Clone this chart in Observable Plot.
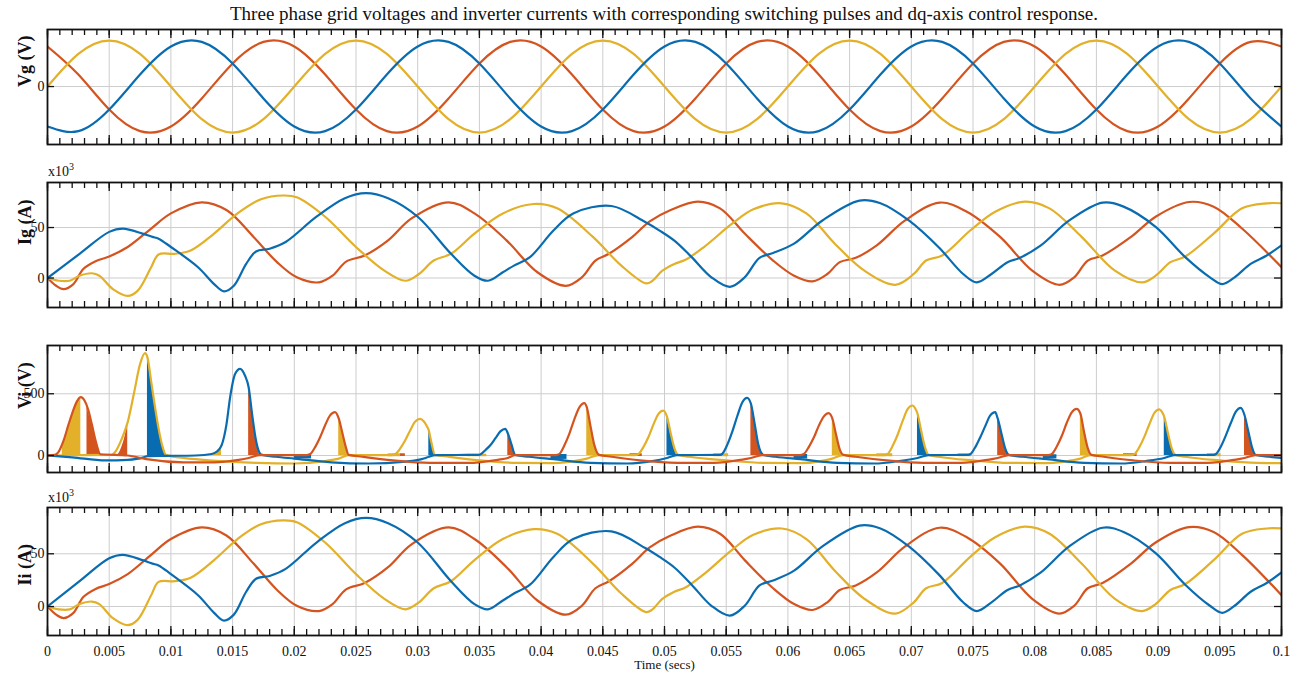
<!DOCTYPE html>
<html><head><meta charset="utf-8">
<script src="https://cdn.jsdelivr.net/npm/d3@7"></script>
<script src="https://cdn.jsdelivr.net/npm/@observablehq/plot@0.6"></script>
<style>
body{margin:0;background:#fff;}
#root{position:relative;width:1296px;height:680px;font-family:"Liberation Serif","Times New Roman",serif;color:#111;overflow:hidden;}
.abs{position:absolute;}
.exp{font-size:14px;line-height:16px;}
.exp span{font-size:10px;position:relative;top:-6px;}
</style></head><body><div id="root"></div>
<script>
// ---------- text ----------
const titleText = "Three phase grid voltages and inverter currents with corresponding switching pulses and dq-axis control response.";
const xLabel = "Time (secs)";
const panelLabels = ["Vg (V)", "Ig (A)", "Vi (V)", "Ii (A)"];
const timeTicks = [0,0.005,0.01,0.015,0.02,0.025,0.03,0.035,0.04,0.045,0.05,0.055,0.06,0.065,0.07,0.075,0.08,0.085,0.09,0.095,0.1];
const timeTickLabels = ["0","0.005","0.01","0.015","0.02","0.025","0.03","0.035","0.04","0.045","0.05","0.055","0.06","0.065","0.07","0.075","0.08","0.085","0.09","0.095","0.1"];
const vgTicks = [0], vgTickLabels = ["0"];
const igTicks = [0, 50], igTickLabels = ["0", "50"];
const viTicks = [0, 500], viTickLabels = ["0", "500"];
const iiTicks = [0, 50], iiTickLabels = ["0", "50"];

// ---------- Vg (per-unit, read at 2.5 ms steps) ----------
const vgTime = [0,0.0025,0.005,0.0075,0.01,0.0125,0.015,0.0175,0.02,0.0225,0.025,0.0275,0.03,0.0325,0.035,0.0375,0.04,0.0425,0.045,0.0475,0.05,0.0525,0.055,0.0575,0.06,0.0625,0.065,0.0675,0.07,0.0725,0.075,0.0775,0.08,0.0825,0.085,0.0875,0.09,0.0925,0.095,0.0975,0.1];
const vgYellow = [0,0.71,1,0.71,0,-0.71,-1,-0.71, 0,0.71,1,0.71,0,-0.71,-1,-0.71, 0,0.71,1,0.71,0,-0.71,-1,-0.71, 0,0.71,1,0.71,0,-0.71,-1,-0.71, 0,0.71,1,0.71,0,-0.71,-1,-0.71, 0];
const vgBlue = [-0.87,-0.97,-0.5,0.26,0.87,0.97,0.5,-0.26, -0.87,-0.97,-0.5,0.26,0.87,0.97,0.5,-0.26, -0.87,-0.97,-0.5,0.26,0.87,0.97,0.5,-0.26, -0.87,-0.97,-0.5,0.26,0.87,0.97,0.5,-0.26, -0.87,-0.97,-0.5,0.26,0.87,0.97,0.5,-0.26, -0.87];
const vgRed = [0.87,0.26,-0.5,-0.97,-0.87,-0.26,0.5,0.97, 0.87,0.26,-0.5,-0.97,-0.87,-0.26,0.5,0.97, 0.87,0.26,-0.5,-0.97,-0.87,-0.26,0.5,0.97, 0.87,0.26,-0.5,-0.97,-0.87,-0.26,0.5,0.97, 0.87,0.26,-0.5,-0.97,-0.87,-0.26,0.5,0.97, 0.87];

// ---------- Ig (x10^3 A), [t, value] ----------
const igBlue = [[0,0],[0.0026,24],[0.005,45.7],[0.0061,49],[0.0077,44],[0.0085,40.7],[0.009,39],[0.01,30.7],[0.0122,10.7],[0.0135,-6],[0.0143,-13.3],[0.0151,-7.7],[0.0161,14],[0.0169,26.3],[0.018,29],[0.0193,35.7],[0.0218,60.7],[0.0241,79],[0.0258,84],[0.0276,79],[0.03,60.7],[0.0327,24],[0.0346,2.3],[0.0357,-2.7],[0.0369,5.7],[0.0378,12.3],[0.0391,20.7],[0.041,47],[0.0426,64],[0.0457,71.3],[0.0484,55.7],[0.0496,47],[0.0508,37],[0.0522,20.7],[0.0538,0.7],[0.0553,-8.7],[0.0565,0.7],[0.0577,20],[0.0588,24.7],[0.0605,34],[0.0628,57],[0.0658,76.7],[0.0675,74],[0.0698,57],[0.0722,30.7],[0.0742,4],[0.0753,-4.3],[0.0765,4],[0.0778,15.7],[0.0788,20],[0.0805,32.3],[0.0828,57],[0.0855,74.7],[0.0872,70.7],[0.0898,50.7],[0.0922,20.7],[0.0942,0.7],[0.0952,-6],[0.0962,0.7],[0.0975,14],[0.0988,22.3],[0.1,32.3]];
const igRed = [[0,0],[0.0007,-7.7],[0.0013,-11],[0.0021,-6],[0.0029,9],[0.0039,16.7],[0.005,21.3],[0.0065,30.7],[0.0084,49],[0.01,64],[0.0125,75],[0.0145,67.3],[0.0167,40.7],[0.0186,15.7],[0.0202,0.7],[0.022,-4.3],[0.0231,2.3],[0.0242,16.3],[0.0257,22.3],[0.0276,37.3],[0.0295,59],[0.0325,75],[0.0346,64],[0.0372,37.3],[0.0397,5.7],[0.042,-7.7],[0.0433,0.7],[0.0444,17.3],[0.0455,24],[0.0474,40.7],[0.0488,56],[0.0505,67.3],[0.0527,75.7],[0.0545,69],[0.0565,44],[0.0588,17.3],[0.0605,2.3],[0.062,-3.3],[0.0632,4],[0.0642,15.7],[0.0655,20],[0.0672,32.3],[0.0695,57],[0.0723,74.7],[0.0745,65.7],[0.0772,40.7],[0.0798,7.3],[0.082,-6.7],[0.0832,0.7],[0.0843,17.3],[0.0855,22.3],[0.0878,40.7],[0.0898,60.7],[0.0925,75.3],[0.0945,70.7],[0.0968,49],[0.1,10.7]];
const igYellow = [[0,0],[0.0009,-2.7],[0.0018,-2.7],[0.0026,2.3],[0.0036,4.7],[0.0042,2.3],[0.0053,-11],[0.0065,-17.7],[0.0073,-12.7],[0.0084,10.7],[0.009,23.3],[0.0103,24],[0.0116,27.3],[0.0135,44],[0.0154,64],[0.0173,78],[0.0191,81.7],[0.0202,80],[0.0225,60.7],[0.025,30.7],[0.0273,7.3],[0.029,-2.7],[0.0301,4],[0.0313,17.3],[0.0327,24],[0.0346,44],[0.0369,64],[0.0394,73.3],[0.0413,69],[0.0442,40.7],[0.0465,12.3],[0.0485,-5.3],[0.049,-3],[0.0498,7],[0.0508,14],[0.0517,18],[0.0532,30.7],[0.0555,54],[0.0572,68],[0.0595,74],[0.0615,64],[0.0638,34],[0.0662,7.3],[0.0687,-6.7],[0.0702,4],[0.0712,17.3],[0.0725,22.3],[0.0748,47.3],[0.0768,65.7],[0.0792,75.7],[0.0812,69],[0.0838,40.7],[0.0865,7.3],[0.0887,-4.3],[0.0898,2.3],[0.091,15.7],[0.0922,21.3],[0.0945,44],[0.0968,69],[0.0988,74],[0.1,74]];

// ---------- Ii (x10^3 A): reads the same as Ig ----------
const iiBlue = igBlue, iiRed = igRed, iiYellow = igYellow;

// ---------- Vi (V), [t, value] ----------
const viRed = [[0,0],[0.0006,5],[0.0009,30],[0.0013,120],[0.0017,250],[0.0021,370],[0.0024,440],[0.0027,472],[0.003,445],[0.0033,370],[0.0036,250],[0.0039,120],[0.0043,10],[0.0065,0],[0.008,-30],[0.011,-55],[0.0135,-55],[0.0155,-35],[0.0163,-20],[0.0172,3],[0.0209,3],[0.0211,5],[0.0213,12],[0.0217,70],[0.0221,150],[0.0225,245],[0.0229,325],[0.0233,351],[0.0236,300],[0.0239,180],[0.0242,60],[0.0244,5],[0.0255,-10],[0.028,-40],[0.031,-60],[0.034,-60],[0.0365,-35],[0.0373,-20],[0.0379,3],[0.0411,3],[0.0413,5],[0.0415,14],[0.0419,85],[0.0423,180],[0.0427,295],[0.0431,390],[0.0435,424],[0.0437,392],[0.044,240],[0.0443,90],[0.0447,5],[0.0457,-10],[0.048,-40],[0.051,-60],[0.054,-60],[0.0562,-35],[0.057,-20],[0.0579,3],[0.0609,3],[0.0611,5],[0.0613,12],[0.0617,70],[0.0621,145],[0.0625,240],[0.0629,315],[0.0633,343],[0.0636,300],[0.0639,170],[0.0642,50],[0.0645,5],[0.0655,-10],[0.068,-40],[0.071,-60],[0.074,-60],[0.0762,-35],[0.077,-20],[0.0779,3],[0.081,3],[0.0812,5],[0.0814,13],[0.0818,75],[0.0822,160],[0.0826,265],[0.083,350],[0.0834,378],[0.0837,340],[0.084,190],[0.0843,60],[0.0846,5],[0.0856,-10],[0.088,-40],[0.091,-60],[0.094,-60],[0.0962,-35],[0.097,-20],[0.0979,3],[0.1,3]];
const viYellow = [[0,0],[0.0027,3],[0.0052,5],[0.0055,30],[0.006,130],[0.0065,270],[0.007,500],[0.0075,740],[0.0079,829],[0.0081,795],[0.0084,600],[0.0087,400],[0.009,220],[0.0093,80],[0.0096,5],[0.011,-20],[0.014,-45],[0.017,-60],[0.02,-65],[0.0225,-45],[0.0236,-25],[0.0244,3],[0.0278,3],[0.028,5],[0.0282,12],[0.0286,60],[0.029,125],[0.0294,205],[0.0298,275],[0.0302,297],[0.0305,275],[0.0307,245],[0.0309,203],[0.0311,110],[0.0314,5],[0.0325,-10],[0.035,-40],[0.038,-60],[0.041,-62],[0.043,-40],[0.0437,-25],[0.0447,3],[0.0475,3],[0.0477,5],[0.0479,13],[0.0483,70],[0.0487,150],[0.0491,250],[0.0495,335],[0.0499,364],[0.0502,315],[0.0505,180],[0.0508,60],[0.0511,5],[0.052,-10],[0.055,-40],[0.058,-60],[0.061,-62],[0.063,-40],[0.0636,-25],[0.0645,3],[0.0677,3],[0.0679,5],[0.0681,14],[0.0685,80],[0.0689,170],[0.0693,280],[0.0697,375],[0.0701,405],[0.0703,385],[0.0705,340],[0.0708,200],[0.0711,70],[0.0714,5],[0.0722,-10],[0.075,-40],[0.078,-60],[0.081,-62],[0.083,-40],[0.0837,-25],[0.0845,3],[0.0877,3],[0.0879,5],[0.0881,13],[0.0885,72],[0.0889,155],[0.0893,255],[0.0897,345],[0.0901,373],[0.0903,355],[0.0905,312],[0.0908,180],[0.0911,60],[0.0914,5],[0.0922,-10],[0.095,-40],[0.098,-60],[0.1,-62]];
const viBlue = [[0,0],[0.002,-15],[0.0047,-40],[0.0065,-35],[0.0078,-15],[0.0081,-5],[0.0096,-3],[0.012,0],[0.0133,12],[0.0137,30],[0.0141,80],[0.0145,250],[0.0148,472],[0.0152,660],[0.0156,702],[0.016,648],[0.0163,553],[0.0166,320],[0.0169,120],[0.0172,20],[0.0174,5],[0.0185,-10],[0.02,-25],[0.023,-55],[0.026,-65],[0.029,-50],[0.0305,-25],[0.0309,-10],[0.0315,3],[0.0349,5],[0.0351,10],[0.0355,45],[0.0359,85],[0.0363,140],[0.0367,195],[0.0371,216],[0.0373,180],[0.0376,90],[0.0379,5],[0.039,-10],[0.041,-30],[0.044,-60],[0.047,-65],[0.049,-45],[0.0502,-20],[0.051,3],[0.0545,5],[0.0547,15],[0.0551,90],[0.0555,195],[0.0559,320],[0.0563,430],[0.0567,467],[0.057,420],[0.0573,260],[0.0576,90],[0.058,5],[0.059,-10],[0.061,-30],[0.064,-60],[0.067,-65],[0.069,-45],[0.0705,-20],[0.0714,3],[0.0746,5],[0.0748,12],[0.0752,70],[0.0756,150],[0.076,240],[0.0764,325],[0.0768,351],[0.077,300],[0.0773,180],[0.0776,60],[0.0779,5],[0.079,-10],[0.081,-30],[0.084,-60],[0.087,-65],[0.089,-45],[0.0905,-20],[0.0913,3],[0.0945,5],[0.0947,13],[0.0951,75],[0.0955,165],[0.0959,265],[0.0963,355],[0.0967,386],[0.097,328],[0.0973,200],[0.0976,70],[0.0979,5],[0.099,-10],[0.1,-20]];

// switching-pulse envelopes (filled), each a list of [t, value]
const viYellowPulses = [
  [[0.0012,60],[0.0015,150],[0.0018,250],[0.0021,370],[0.0024,440],[0.0027,472]],
  [[0.013,0],[0.0135,20],[0.0139,50],[0.0141,90]],
  [[0.0236,297],[0.0239,180],[0.0242,60],[0.0244,0]],
  [[0.0437,390],[0.044,240],[0.0443,90],[0.0447,0]],
  [[0.0636,297],[0.0639,170],[0.0642,50],[0.0645,0]],
  [[0.0837,338],[0.084,190],[0.0843,60],[0.0845,0]]
];
const viRedPulses = [
  [[0.0032,395],[0.0034,320],[0.0036,250],[0.0039,120],[0.0043,0]],
  [[0.0057,0],[0.006,60],[0.0063,160],[0.0065,265]],
  [[0.0163,553],[0.0166,320],[0.0169,120],[0.0172,0]],
  [[0.0373,175],[0.0376,90],[0.0379,0]],
  [[0.057,418],[0.0573,260],[0.0576,90],[0.0579,0]],
  [[0.077,297],[0.0773,180],[0.0776,60],[0.0779,0]],
  [[0.097,324],[0.0973,200],[0.0976,70],[0.0979,0]]
];
const viBluePulses = [
  [[0.0081,790],[0.0084,600],[0.0087,400],[0.009,220],[0.0093,80],[0.0096,0]],
  [[0.0309,203],[0.0311,110],[0.0314,0]],
  [[0.0502,310],[0.0505,180],[0.0508,60],[0.051,0]],
  [[0.0705,338],[0.0708,200],[0.0711,70],[0.0714,0]],
  [[0.0905,310],[0.0908,180],[0.0911,60],[0.0913,0]]
];
// switching noise bands near zero: [t start, t end, low, high]
const viBlueNoise = [[0.02,0.0214,-28,6],[0.0408,0.0421,-32,8],[0.0605,0.0616,-28,8],[0.0807,0.0818,-28,6]];
const viYellowNoise = [[0.0276,0.0286,-10,14],[0.034,0.0356,-10,10],[0.054,0.0552,-10,14],[0.0672,0.0685,-10,14],[0.0738,0.0749,-10,14],[0.094,0.0951,-10,14]];
const viRedNoise = [[0.0286,0.029,-8,14],[0.0472,0.0482,-8,14],[0.0872,0.0883,-8,14]];

// ---------- drawing ----------
const C = {blue:"#0a6cb0", red:"#d45420", yellow:"#e3b02a"};
const W = 1296, ML = 47, MR = 15;
const root = document.getElementById("root");
const minorTicks = d3.ticks(0, 0.1, 100);
const SW = 2.2;

function place(el, top) { el.style.position = "absolute"; el.style.left = "0px"; el.style.top = top + "px"; root.appendChild(el); }

function panel(o) {
  const mt = 4, mb = o.bottomAxis ? 45 : 4;
  const [lo, hi] = o.yDomain;
  const yPx = (hi - lo) / o.frameH;
  const xPx = 0.1 / (W - ML - MR);
  const tk = {stroke:"#111", strokeWidth:1.3};
  const marks = [
    Plot.ruleX(timeTicks.slice(1, -1), {stroke:"#cdcdcd", strokeWidth:1}),
    Plot.ruleY(o.yTicks, {stroke:"#cdcdcd", strokeWidth:1}),
    ...o.marks,
    Plot.ruleX(minorTicks, {x:d=>d, y1:hi, y2:hi - 6*yPx, ...tk}),
    Plot.ruleX(minorTicks, {x:d=>d, y1:lo, y2:lo + 6*yPx, ...tk}),
    Plot.ruleX(timeTicks, {x:d=>d, y1:hi, y2:hi - 9*yPx, ...tk}),
    Plot.ruleX(timeTicks, {x:d=>d, y1:lo, y2:lo + 9*yPx, ...tk}),
    Plot.ruleY(o.yTicks, {y:d=>d, x1:0, x2:7*xPx, ...tk}),
    Plot.ruleY(o.yTicks, {y:d=>d, x1:0.1 - 7*xPx, x2:0.1, ...tk}),
    Plot.frame({stroke:"#111", strokeWidth:1.8}),
    Plot.text(o.yTicks, {x:0, y:d=>d, text:(d,i)=>o.yTickLabels[i], textAnchor:"end", dx:-3, fontSize:14, fill:"#111"}),
    Plot.text([o.label], {frameAnchor:"left", rotate:-90, dx:-22, dy:o.labelDy || 0, fontSize:18, fontWeight:"bold", fill:"#111"})
  ];
  if (o.bottomAxis) {
    marks.push(Plot.text(timeTicks, {x:d=>d, y:lo, text:(d,i)=>timeTickLabels[i], dy:16, fontSize:14, fill:"#111"}));
    marks.push(Plot.text([xLabel], {frameAnchor:"bottom", dy:33, fontSize:13, fill:"#111"}));
  }
  const svg = Plot.plot({
    width:W, height: mt + o.frameH + mb,
    marginLeft:ML, marginRight:MR, marginTop:mt, marginBottom:mb,
    x:{domain:[0, 0.1], axis:null},
    y:{domain:o.yDomain, axis:null},
    style:{fontFamily:"'Liberation Serif','Times New Roman',serif", background:"transparent", overflow:"visible"},
    marks
  });
  place(svg, o.frameTop - mt);
}

const lineOpts = (color, curve) => ({x:d=>d[0], y:d=>d[1], stroke:color, strokeWidth:SW, curve, clip:true});

// Vg
const vgRows = vgTime.map((t, i) => ({t, blue:vgBlue[i], red:vgRed[i], yellow:vgYellow[i]}));
panel({
  frameTop:29, frameH:115, yDomain:[-1.26, 1.24], yTicks:vgTicks, yTickLabels:vgTickLabels, label:panelLabels[0],
  marks:[
    Plot.line(vgRows, {x:"t", y:"red", stroke:C.red, strokeWidth:SW, curve:"natural", clip:true}),
    Plot.line(vgRows, {x:"t", y:"yellow", stroke:C.yellow, strokeWidth:SW, curve:"natural", clip:true}),
    Plot.line(vgRows, {x:"t", y:"blue", stroke:C.blue, strokeWidth:SW, curve:"natural", clip:true})
  ]
});

// Ig
panel({
  frameTop:182, frameH:125, yDomain:[-29.2, 94.6], yTicks:igTicks, yTickLabels:igTickLabels, label:panelLabels[1],
  marks:[
    Plot.line(igRed, lineOpts(C.red, "catmull-rom")),
    Plot.line(igYellow, lineOpts(C.yellow, "catmull-rom")),
    Plot.line(igBlue, lineOpts(C.blue, "catmull-rom"))
  ]
});

// Vi
const pulseRows = (pulses) => pulses.flatMap((p, id) => p.map(([t, v]) => ({id, t, v})));
const noiseMark = (arr, color) => Plot.rect(arr, {x1:d=>d[0], x2:d=>d[1], y1:d=>d[2], y2:d=>d[3], fill:color, clip:true});
panel({
  frameTop:345, frameH:127, yDomain:[-137.8, 891], yTicks:viTicks, yTickLabels:viTickLabels, label:panelLabels[2],
  marks:[
    Plot.areaY(pulseRows(viYellowPulses), {x:"t", y:"v", z:"id", fill:C.yellow, curve:"monotone-x", clip:true}),
    Plot.areaY(pulseRows(viRedPulses), {x:"t", y:"v", z:"id", fill:C.red, curve:"monotone-x", clip:true}),
    Plot.areaY(pulseRows(viBluePulses), {x:"t", y:"v", z:"id", fill:C.blue, curve:"monotone-x", clip:true}),
    noiseMark(viBlueNoise, C.blue),
    noiseMark(viYellowNoise, C.yellow),
    noiseMark(viRedNoise, C.red),
    Plot.line(viYellow, lineOpts(C.yellow, "monotone-x")),
    Plot.line(viBlue, lineOpts(C.blue, "monotone-x")),
    Plot.line(viRed, lineOpts(C.red, "monotone-x"))
  ]
});

// Ii
panel({
  frameTop:507, frameH:128, yDomain:[-27.5, 93.9], yTicks:iiTicks, yTickLabels:iiTickLabels, label:panelLabels[3], labelDy:14,
  bottomAxis:true,
  marks:[
    Plot.line(iiRed, lineOpts(C.red, "catmull-rom")),
    Plot.line(iiYellow, lineOpts(C.yellow, "catmull-rom")),
    Plot.line(iiBlue, lineOpts(C.blue, "catmull-rom"))
  ]
});

// title and multipliers
const title = document.createElement("div");
title.textContent = titleText;
title.style.cssText = "position:absolute;left:47px;width:1234px;top:3px;text-align:center;font-size:19px;line-height:22px;";
root.appendChild(title);
for (const top of [164, 490]) {
  const m = document.createElement("div");
  m.className = "abs exp";
  m.style.left = "48px"; m.style.top = top + "px";
  m.innerHTML = "x10<span>3</span>";
  root.appendChild(m);
}
</script></body></html>
